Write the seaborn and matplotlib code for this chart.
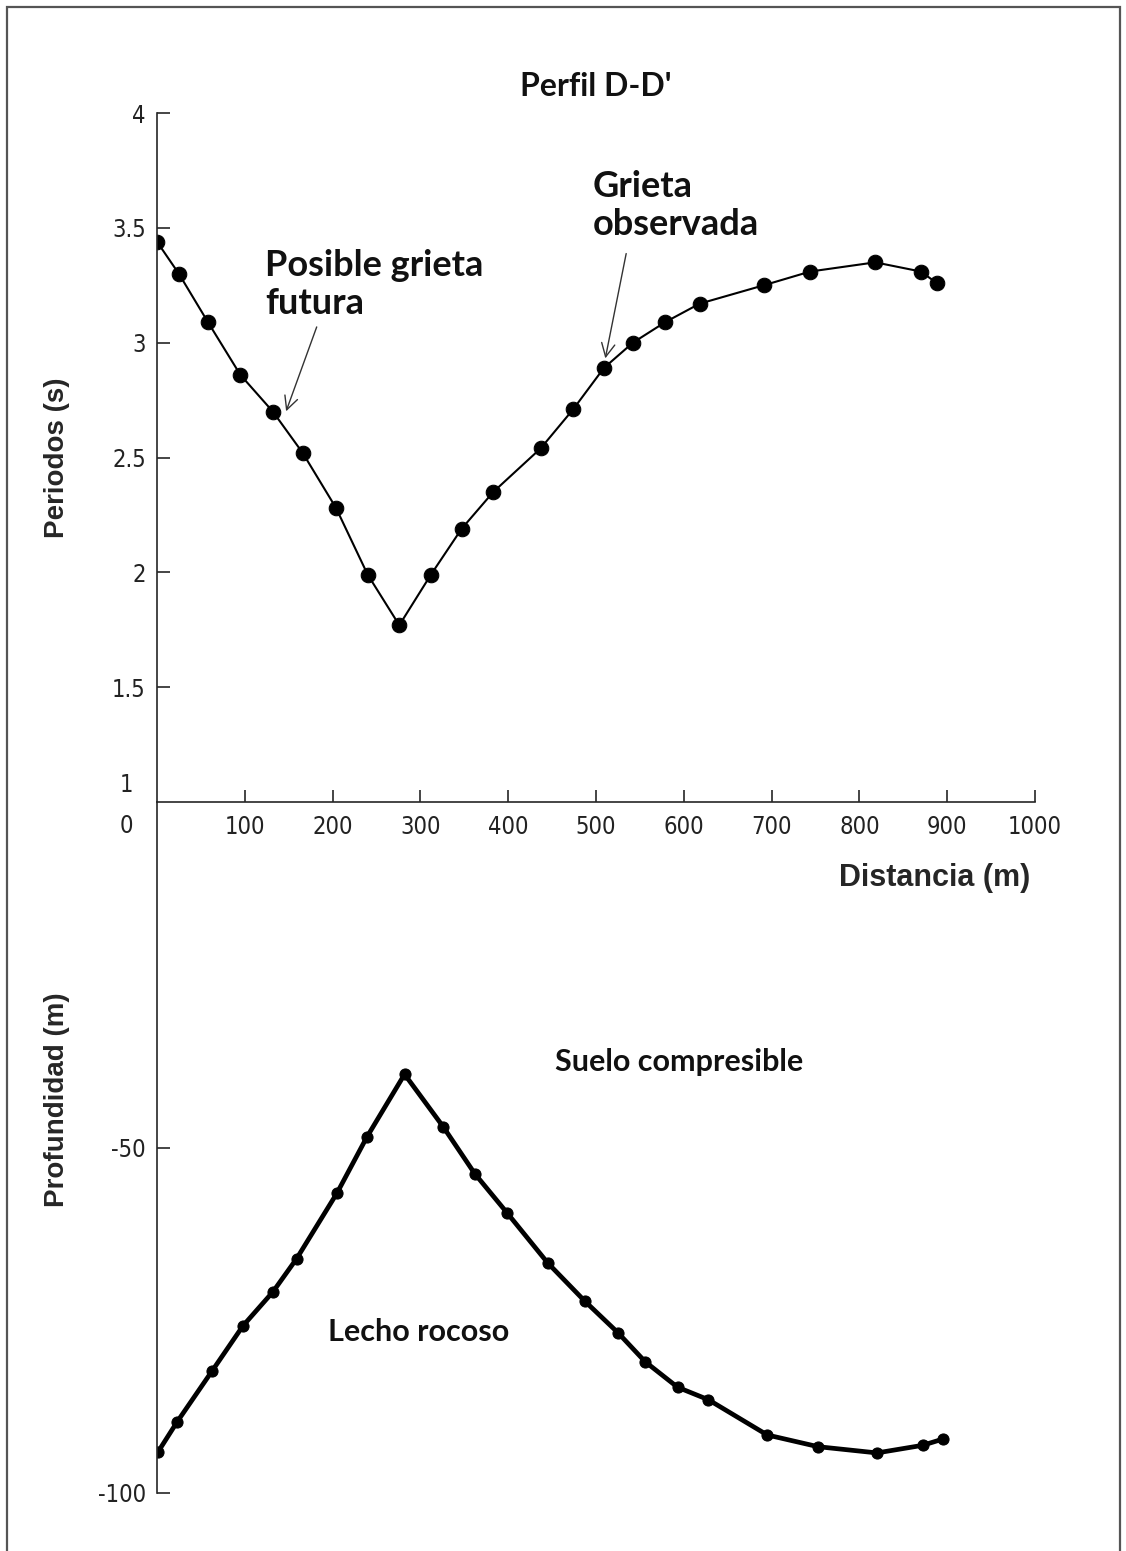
import numpy as np
import pandas as pd
import matplotlib
matplotlib.use("Agg")
from matplotlib import pyplot as plt
from matplotlib.patches import Rectangle
import seaborn as sns

# periodos medidos a lo largo del perfil
dist_periodo = [0, 25, 58, 95, 132, 166, 204, 240, 276, 312, 347, 383, 437, 474, 509, 542, 579, 618, 691, 744, 818, 870, 888]
periodo = [3.44, 3.30, 3.09, 2.86, 2.70, 2.52, 2.28, 1.99, 1.77, 1.99, 2.19, 2.35, 2.54, 2.71, 2.89, 3.00, 3.09, 3.17, 3.25, 3.31, 3.35, 3.31, 3.26]

# profundidad del lecho rocoso
dist_prof = [1, 23, 63, 98, 132, 159, 205, 239, 282, 326, 362, 399, 445, 487, 525, 556, 593, 628, 695, 753, 820, 872, 895]
profundidad = [-94.1, -89.7, -82.3, -75.8, -70.9, -66.1, -56.6, -48.5, -39.4, -47.0, -53.8, -59.5, -66.7, -72.2, -76.8, -81.0, -84.7, -86.5, -91.6, -93.3, -94.2, -93.1, -92.2]

xticks = [100, 200, 300, 400, 500, 600, 700, 800, 900, 1000]
yticks_top = [1.5, 2, 2.5, 3, 3.5, 4]
ylabels_top = ["1.5", "2", "2.5", "3", "3.5", "4"]
yticks_bot = [-100, -50]
ylabels_bot = ["-100", "-50"]

sns.set_style("ticks")
plt.rcParams['font.family'] = ['DejaVu Sans']
plt.rcParams['font.stretch'] = 'condensed'
plt.rcParams['axes.unicode_minus'] = False
plt.rcParams['xtick.direction'] = 'in'
plt.rcParams['ytick.direction'] = 'in'

fig = plt.figure(figsize=(11.26, 15.51), dpi=100)
ax1 = fig.add_axes([0.1394, 0.4829, 0.7798, 0.4442])
ax2 = fig.add_axes([0.1394, 0.0374, 0.7798, 0.4455])

df1 = pd.DataFrame({"x": dist_periodo, "y": periodo})
df2 = pd.DataFrame({"x": dist_prof, "y": profundidad})

sns.lineplot(data=df1, x="x", y="y", ax=ax1, color="black", lw=1.5,
             marker="o", markersize=10.5, markeredgecolor="black")
sns.lineplot(data=df2, x="x", y="y", ax=ax2, color="black", lw=3.4,
             marker="o", markersize=8, markeredgecolor="black")

tick_font = dict(fontsize=17, fontstretch="condensed", color="#222222")

for ax in (ax1, ax2):
    ax.set_xlim(0, 1000)
    ax.set_facecolor("none")
    for s in ["top", "right"]:
        ax.spines[s].set_visible(False)
    ax.spines["left"].set_linewidth(1.2)
    ax.tick_params(direction="in", length=9, width=1.2, pad=8)

ax1.set_ylim(1, 4)
ax1.set_xticks(xticks)
ax1.set_xticklabels([str(t) for t in xticks], **tick_font)
ax1.set_yticks(yticks_top)
ax1.set_yticklabels(ylabels_top, **tick_font)
ax1.spines["bottom"].set_linewidth(1.2)
ax1.tick_params(axis="x", pad=9)

ax2.set_ylim(-100, 0)
ax2.set_yticks(yticks_bot)
ax2.set_yticklabels(ylabels_bot, **tick_font)
ax2.set_xticks([])
ax2.set_xlabel("")
ax2.spines["bottom"].set_visible(False)

# etiquetas desplazadas de la esquina
ax1.annotate("1", xy=(0, 1), xycoords="data", xytext=(-24, 17), textcoords="offset pixels",
             ha="right", va="center", **tick_font)
ax1.annotate("0", xy=(0, 1), xycoords="data", xytext=(-24, -24), textcoords="offset pixels",
             ha="right", va="center", **tick_font)

lab_font = dict(fontsize=20, fontweight="bold", family="Liberation Sans", fontstretch="normal")
ax1.set_xlabel("Distancia (m)", fontsize=22, fontweight="bold", family="Liberation Sans",
               fontstretch="normal")
ax1.set_ylabel("Periodos (s)", **lab_font)
ax2.set_ylabel("Profundidad (m)", **lab_font)
ax1.xaxis.set_label_coords(0.886, -0.088)
ax1.yaxis.set_label_coords(-0.099, 0.5)
ax2.yaxis.set_label_coords(-0.099, 0.569)

note_font = dict(fontweight="bold", family="Lato", color="#111111", fontstretch="normal")
ax1.set_title("Perfil D-D'", fontsize=23, pad=12, **note_font)

arrow = dict(arrowstyle="->", color="#333333", lw=1, mutation_scale=24)
ax1.text(123, 3.253, "Posible grieta\nfutura", fontsize=26, ha="left", va="center",
         linespacing=1.2, **note_font)
ax1.annotate("", xy=(146, 2.69), xytext=(183, 3.08), arrowprops=arrow)
ax1.text(496, 3.597, "Grieta\nobservada", fontsize=26, ha="left", va="center",
         linespacing=1.2, **note_font)
ax1.annotate("", xy=(510, 2.92), xytext=(535, 3.4), arrowprops=arrow)

ax2.text(453, -37.6, "Suelo compresible", fontsize=22, ha="left", va="center", **note_font)
ax2.text(195, -76.7, "Lecho rocoso", fontsize=22, ha="left", va="center", **note_font)

fig.patches.append(Rectangle((0.0062, -0.01), 0.9885, 1.0055, transform=fig.transFigure,
                             fill=False, edgecolor="#555555", lw=1.6))

fig.savefig("out.png", dpi=100, facecolor="white")
